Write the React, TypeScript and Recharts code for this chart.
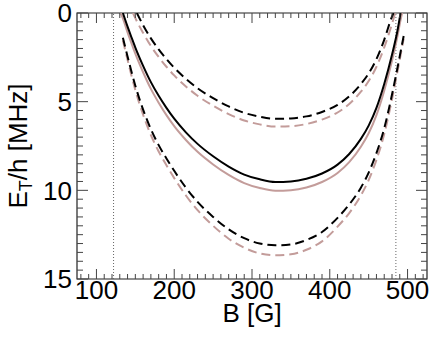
import React from 'react';
import { LineChart, Line, XAxis, YAxis, ReferenceLine, ReferenceArea } from 'recharts';

const FONT = '"Liberation Sans", Arial, Helvetica, sans-serif';
const PINK = '#c39c9a';

// magnetic field [G] sampling points (null = no point for that curve)
const fieldG = [131, 134, 140, 145, 147, 150, 152, 160, 170, 180, 190, 200, 215, 230, 250, 270, 290, 310, 330, 350, 370, 390, 410, 425, 440, 450, 460, 470, 480, 482, 484, 487, 491, 493, 495];

const solidBlack = [null, 0, 0.77, 1.37, null, 1.95, null, 2.98, 3.9, 4.67, 5.35, 5.96, 6.73, 7.38, 8.08, 8.66, 9.11, 9.38, 9.53, 9.5, 9.35, 9.05, 8.55, 7.95, 7.1, 6.35, 5.35, 4.0, 2.35, null, null, 1.0, 0, null, null];
const solidPink = [0, 0.3, 1.09, 1.7, null, 2.29, null, 3.34, 4.28, 5.06, 5.76, 6.38, 7.16, 7.83, 8.54, 9.13, 9.59, 9.87, 10.02, 9.99, 9.84, 9.53, 9.02, 8.41, 7.54, 6.78, 5.76, 4.38, 2.7, null, null, 1.32, 0.4, 0, null];
const upperBlack = [null, null, null, null, null, null, 0, 0.69, 1.43, 2.05, 2.6, 3.09, 3.71, 4.24, 4.8, 5.27, 5.63, 5.85, 5.97, 5.95, 5.83, 5.58, 5.18, 4.7, 4.01, 3.41, 2.6, 1.51, 0.2, 0, null, null, null, null, null];
const upperPink = [null, null, null, null, 0, 0.29, null, 1.12, 1.86, 2.48, 3.03, 3.52, 4.14, 4.67, 5.23, 5.7, 6.06, 6.28, 6.4, 6.38, 6.26, 6.01, 5.61, 5.13, 4.44, 3.84, 3.03, 1.94, 0.61, null, 0, null, null, null, null];
const lowerBlack = [null, 1.4, 2.45, 3.3, null, 4.1, null, 5.45, 6.55, 7.45, 8.2, 8.9, 9.85, 10.65, 11.5, 12.2, 12.7, 13.0, 13.1, 13.05, 12.8, 12.35, 11.55, 10.8, 9.85, 9.0, 7.9, 6.5, 4.6, null, null, 3.1, 2.2, 1.75, 1.3];
const lowerPink = [null, 1.55, 2.64, 3.52, null, 4.34, null, 5.74, 6.88, 7.81, 8.59, 9.31, 10.29, 11.12, 12.0, 12.73, 13.24, 13.56, 13.66, 13.61, 13.35, 12.88, 12.05, 11.28, 10.29, 9.42, 8.28, 6.83, 4.86, null, null, 3.31, 2.38, 1.9, 1.45];

const dottedLinesG = [122, 485];
const xMajorTicks = [100, 200, 300, 400, 500];
const yMajorTicks = [0, 5, 10, 15];

const xTicks = Array.from({ length: 45 }, (_, i) => 80 + i * 10);
const yTicks = Array.from({ length: 31 }, (_, i) => i * 0.5);

const data = fieldG.map((b, i) => ({
  b,
  sb: solidBlack[i],
  sp: solidPink[i],
  ub: upperBlack[i],
  up: upperPink[i],
  lb: lowerBlack[i],
  lp: lowerPink[i],
}));

const W = 433;
const H = 343;
const MARGIN = { top: 13, right: 6, bottom: 0, left: 0 };
const Y_AXIS_W = 77;
const X_AXIS_H = 64;
const PLOT_W = W - MARGIN.left - MARGIN.right - Y_AXIS_W;
const PLOT_H = H - MARGIN.top - MARGIN.bottom - X_AXIS_H;

const TICK_COLOR = '#444';
const FS = 26;

// bottom ticks, also mirrored on the top edge
const BottomTick = ({ x, y, payload }: any) => {
  const major = xMajorTicks.includes(payload.value);
  const len = major ? 10 : 5;
  return (
    <g>
      <line x1={x} x2={x} y1={y} y2={y - len} stroke={TICK_COLOR} />
      <line x1={x} x2={x} y1={y - PLOT_H} y2={y - PLOT_H + len} stroke={TICK_COLOR} />
      {major && (
        <text x={x} y={y + 19.5} textAnchor="middle" fontSize={FS} fontFamily={FONT} fill="#000">
          {payload.value}
        </text>
      )}
    </g>
  );
};

// left ticks, also mirrored on the right edge
const LeftTick = ({ x, y, payload }: any) => {
  const major = yMajorTicks.includes(payload.value);
  const len = major ? 11 : 6;
  return (
    <g>
      <line x1={x} x2={x + len} y1={y} y2={y} stroke={TICK_COLOR} />
      <line x1={x + PLOT_W} x2={x + PLOT_W - len} y1={y} y2={y} stroke={TICK_COLOR} />
      {major && (
        <text x={x - 5} y={y + 9.2} textAnchor="end" fontSize={FS} fontFamily={FONT} fill="#000">
          {payload.value}
        </text>
      )}
    </g>
  );
};

const XTitle = ({ viewBox }: any) => (
  <text x={viewBox.x + viewBox.width / 2} y={viewBox.y + 43} textAnchor="middle" fontSize={FS} fontFamily={FONT} fill="#000">
    B [G]
  </text>
);

const YTitle = ({ viewBox }: any) => (
  <text
    transform={`translate(27, ${viewBox.y + viewBox.height / 2}) rotate(-90)`}
    textAnchor="middle"
    fontSize={FS}
    fontFamily={FONT}
    fill="#000"
  >
    E<tspan dy={5} fontSize={18}>T</tspan>
    <tspan dy={-5}>/h [MHz]</tspan>
  </text>
);

export default function App() {
  return (
    <div style={{ position: 'absolute', left: 0, top: 0, background: '#fff' }}>
      <LineChart width={W} height={H} data={data} margin={MARGIN}>
        <XAxis
          dataKey="b"
          type="number"
          domain={[75, 525]}
          allowDataOverflow
          ticks={xTicks}
          interval={0}
          tickSize={0}
          tickMargin={0}
          tickLine={false}
          tick={<BottomTick />}
          axisLine={false}
          height={X_AXIS_H}
          label={<XTitle />}
        />
        <YAxis
          type="number"
          domain={[0, 15]}
          reversed
          allowDataOverflow
          ticks={yTicks}
          interval={0}
          tickSize={0}
          tickMargin={0}
          tickLine={false}
          tick={<LeftTick />}
          axisLine={false}
          width={Y_AXIS_W}
          label={<YTitle />}
        />
        <ReferenceArea x1={75} x2={525} y1={0} y2={15} fill="none" stroke="#222" strokeWidth={1.2} />
        {dottedLinesG.map((g) => (
          <ReferenceLine key={g} x={g} stroke="#666" strokeDasharray="1 2" />
        ))}
        <Line dataKey="up" type="monotone" stroke={PINK} strokeWidth={2} strokeDasharray="9 5" dot={false} connectNulls isAnimationActive={false} />
        <Line dataKey="lp" type="monotone" stroke={PINK} strokeWidth={2} strokeDasharray="9 5" dot={false} connectNulls isAnimationActive={false} />
        <Line dataKey="sp" type="monotone" stroke={PINK} strokeWidth={2} dot={false} connectNulls isAnimationActive={false} />
        <Line dataKey="ub" type="monotone" stroke="#000" strokeWidth={2} strokeDasharray="9 5" dot={false} connectNulls isAnimationActive={false} />
        <Line dataKey="lb" type="monotone" stroke="#000" strokeWidth={2} strokeDasharray="9 5" dot={false} connectNulls isAnimationActive={false} />
        <Line dataKey="sb" type="monotone" stroke="#000" strokeWidth={2} dot={false} connectNulls isAnimationActive={false} />
      </LineChart>
    </div>
  );
}
